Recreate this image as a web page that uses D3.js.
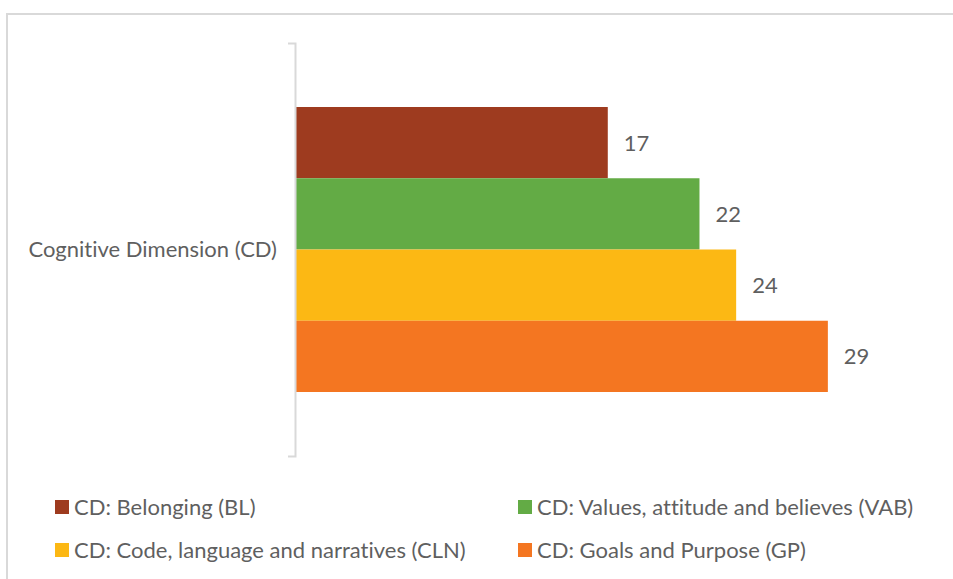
<!DOCTYPE html>
<html>
<head>
<meta charset="utf-8">
<script src="https://cdn.jsdelivr.net/npm/d3@7"></script>
<style>
  html, body { margin: 0; padding: 0; background: #fff; }
  svg text { font-family: Lato, "Open Sans", sans-serif; fill: #5f5f5f; font-variant-ligatures: none; }
</style>
</head>
<body>
<svg id="chart" width="953" height="579"></svg>
<script>
// Cognitive Dimension sub-scores
const categories = ["Cognitive Dimension (CD)"];
const seriesNames = [
  "CD: Belonging (BL)",
  "CD: Values, attitude and believes (VAB)",
  "CD: Code, language and narratives (CLN)",
  "CD: Goals and Purpose (GP)"
];
const seriesValues = [17, 22, 24, 29];
const seriesColors = ["#9E3B1F", "#63AB45", "#FCB814", "#F47621"];

const svg = d3.select("#chart");
const fontSize = 22;

// outer frame
svg.append("rect")
  .attr("x", 7).attr("y", 14)
  .attr("width", 1000).attr("height", 700)
  .attr("fill", "none")
  .attr("stroke", "#d9d9d9")
  .attr("stroke-width", 2);

const plot = { left: 296, top: 43, bottom: 456 };

const x = d3.scaleLinear().domain([0, 1]).range([plot.left, plot.left + 18.34]);

const y0 = d3.scaleBand()
  .domain(categories)
  .range([plot.top, plot.bottom])
  .paddingInner(0)
  .paddingOuter(0.2246);

const y1 = d3.scaleBand()
  .domain(seriesNames)
  .range([0, y0.bandwidth()])
  .padding(0);

const rows = seriesNames.map((name, i) => ({
  cat: categories[0], name, value: seriesValues[i], color: seriesColors[i]
}));

// bars
svg.append("g").selectAll("rect")
  .data(rows)
  .join("rect")
  .attr("x", x(0))
  .attr("y", d => y0(d.cat) + y1(d.name))
  .attr("width", d => x(d.value) - x(0))
  .attr("height", y1.bandwidth())
  .attr("fill", d => d.color);

// value labels
svg.append("g").selectAll("text")
  .data(rows)
  .join("text")
  .attr("x", d => x(d.value) + 16)
  .attr("y", d => y0(d.cat) + y1(d.name) + y1.bandwidth() / 2)
  .attr("dy", "0.36em")
  .attr("font-size", fontSize)
  .text(d => d.value);

// category axis
const axis = svg.append("g")
  .attr("transform", `translate(${plot.left - 1},0)`)
  .call(d3.axisLeft(y0).tickSizeInner(0).tickSizeOuter(7).tickPadding(18));
axis.select(".domain").attr("stroke", "#d9d9d9").attr("stroke-width", 2);
axis.selectAll(".tick line").remove();
axis.selectAll(".tick text")
  .attr("font-size", fontSize)
  .attr("font-family", "Lato, 'Open Sans', sans-serif")
  .attr("fill", "#5f5f5f");

// legend
const legendPos = [
  { x: 55, y: 500 }, { x: 518, y: 500 },
  { x: 55, y: 543 }, { x: 518, y: 543 }
];
const legend = svg.append("g").selectAll("g")
  .data(rows)
  .join("g")
  .attr("transform", (d, i) => `translate(${legendPos[i].x},${legendPos[i].y})`);
legend.append("rect")
  .attr("width", 14).attr("height", 14)
  .attr("fill", d => d.color);
legend.append("text")
  .attr("x", 19).attr("y", 7)
  .attr("dy", "0.36em")
  .attr("font-size", fontSize)
  .text(d => d.name);
</script>
</body>
</html>
